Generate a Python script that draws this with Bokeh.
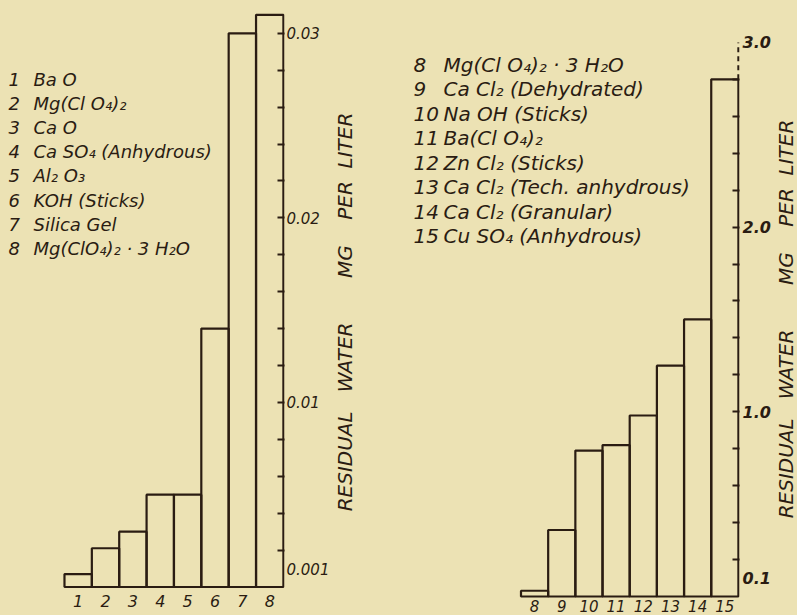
import math
from bokeh.plotting import figure
from bokeh.models import (ColumnDataSource, FixedTicker, Range1d, Label, LabelSet,
                          GlobalInlineStyleSheet)
from bokeh.layouts import row
from bokeh.embed import file_html
from bokeh.resources import INLINE
from bokeh.core.properties import value

# ---------------- data ----------------
left_numbers = ["1", "2", "3", "4", "5", "6", "7", "8"]
left_names = ["Ba O", "Mg(Cl O\u2084)\u2082", "Ca O", "Ca SO\u2084 (Anhydrous)", "Al\u2082 O\u2083",
              "KOH (Sticks)", "Silica Gel", "Mg(ClO\u2084)\u2082 \u00b7 3 H\u2082O"]
left_values = [0.0007, 0.0021, 0.0030, 0.0050, 0.0050, 0.0140, 0.0300, 0.0310]
left_tick_values = [0.001, 0.01, 0.02, 0.03]
left_tick_labels = ["0.001", "0.01", "0.02", "0.03"]
left_minor_ticks = [0.002, 0.004, 0.006, 0.008, 0.010, 0.012, 0.014, 0.016, 0.018,
                    0.020, 0.022, 0.024, 0.026, 0.028, 0.030]

right_numbers = ["8", "9", "10", "11", "12", "13", "14", "15"]
right_names = ["Mg(Cl O\u2084)\u2082 \u00b7 3 H\u2082O", "Ca Cl\u2082 (Dehydrated)", "Na OH (Sticks)",
               "Ba(Cl O\u2084)\u2082", "Zn Cl\u2082 (Sticks)", "Ca Cl\u2082 (Tech. anhydrous)",
               "Ca Cl\u2082 (Granular)", "Cu SO\u2084 (Anhydrous)"]
right_values = [0.031, 0.36, 0.79, 0.82, 0.98, 1.25, 1.50, 2.80]
right_tick_values = [0.1, 1.0, 2.0, 3.0]
right_tick_labels = ["0.1", "1.0", "2.0", "3.0"]
right_minor_ticks = [0.2, 0.4, 0.6, 0.8, 1.0, 1.2, 1.4, 1.6, 1.8, 2.0, 2.2, 2.4, 2.6, 2.8]

NB = "\u00a0"
axis_title = "RESIDUAL" + NB * 3 + "WATER" + NB * 7 + "MG" + NB * 4 + "PER" + NB * 2 + "LITER"

# ---------------- style ----------------
BG = "#ece2b4"
INK = "#2a1c12"
FONT = "DejaVu Sans"
H = 615


def add_title(p, frame_left_page, page_x, page_y):
    p.add_layout(Label(x=page_x - frame_left_page, y=H - page_y, x_units="screen",
                       y_units="screen", text=axis_title, angle=math.pi / 2,
                       text_align="center", text_baseline="middle", text_font=FONT,
                       text_font_size="20px", text_font_style="italic", text_color=INK))


def make_chart(numbers, names, values, ticks, tick_labels, minor, x_start, y_range,
               width, border_right, tick_size, tick_style, tick_standoff, xlab_size, xlab_off,
               list_size, list_num_x, list_name_x, list_y0, list_dy, fig_left_page,
               dashed_top=None):
    pos = list(range(1, len(values) + 1))
    p = figure(width=width, height=H, output_backend="svg", toolbar_location=None,
               x_range=Range1d(x_start, len(values) + 0.54), y_range=Range1d(*y_range),
               y_axis_location="right", x_axis_location=None,
               min_border_left=0, min_border_right=border_right, min_border_top=0,
               min_border_bottom=0,
               background_fill_color=BG, border_fill_color=BG, outline_line_color=None)
    p.grid.visible = False

    src = ColumnDataSource(dict(x=pos, top=values, label=numbers, zero=[0] * len(values)))
    p.vbar(x="x", top="top", bottom=0, width=1.0, source=src,
           fill_color=None, line_color=INK, line_width=2.2)

    if dashed_top is not None:
        xe = len(values) + 0.5
        p.segment(x0=[xe], y0=[max(values)], x1=[xe], y1=[dashed_top],
                  line_color=INK, line_width=2.2, line_dash="5 4")

    ax = p.yaxis[0]
    ax.ticker = FixedTicker(ticks=ticks, minor_ticks=minor)
    ax.major_label_overrides = {t: s for t, s in zip(ticks, tick_labels)}
    ax.axis_line_color = None
    ax.major_tick_in = 0
    ax.major_tick_out = 0
    ax.minor_tick_in = 7
    ax.minor_tick_out = 0
    ax.minor_tick_line_color = INK
    ax.minor_tick_line_width = 2
    ax.major_label_standoff = tick_standoff
    ax.major_label_text_font = FONT
    ax.major_label_text_font_size = tick_size
    ax.major_label_text_font_style = tick_style
    ax.major_label_text_color = INK

    p.add_layout(LabelSet(x="x", y="zero", text="label", source=src, y_offset=xlab_off,
                          text_align="center", text_baseline="middle",
                          text_font=value(FONT), text_font_size=value(xlab_size),
                          text_font_style=value("italic"), text_color=INK))

    for i, (num, name) in enumerate(zip(numbers, names)):
        yy = H - (list_y0 + list_dy * i)
        for tx, xx in ((num, list_num_x), (name, list_name_x)):
            p.add_layout(Label(x=xx - fig_left_page, y=yy, x_units="screen", y_units="screen",
                               text=tx, text_align="left", text_baseline="middle",
                               text_font=FONT, text_font_size=list_size,
                               text_font_style="italic", text_color=INK))
    return p


# left chart (page x 0..332): baseline at y=586.5 px, 18457 px per unit; bars span x 64..283
p_left = make_chart(left_numbers, left_names, left_values, left_tick_values, left_tick_labels,
                    left_minor_ticks, -1.838, (-0.001544, 0.031777), 332, 48,
                    "15px", "italic", 2, "16px", -13.5, "18px", 8, 33, 79, 24.1, 0)

# right chart (page x 332..773): baseline at y=596 px, 184.7 px per unit; bars span x 521..739
p_right = make_chart(right_numbers, right_names, right_values, right_tick_values,
                     right_tick_labels, right_minor_ticks, -6.436, (-0.1029, 3.2269), 441, 33,
                     "16px", "bold italic", 3, "15px", -9.5, "20px", 413, 443, 64, 24.57, 332,
                     dashed_top=right_tick_values[-1])
add_title(p_right, 332, 344, 311.5)

# narrow strip (page x 773..797) carrying the title of the right chart
p_title = figure(width=24, height=H, output_backend="svg", toolbar_location=None,
                 x_range=Range1d(0, 1), y_range=Range1d(0, 1),
                 x_axis_location=None, y_axis_location=None,
                 min_border_left=0, min_border_right=0, min_border_top=0, min_border_bottom=0,
                 background_fill_color=BG, border_fill_color=BG, outline_line_color=None)
p_title.grid.visible = False
add_title(p_title, 773, 785, 318.5)

layout = row(p_left, p_right, p_title)
layout.stylesheets = [GlobalInlineStyleSheet(css="body { background: %s; }" % BG)]

open("out.html", "w").write(file_html(layout, INLINE))
